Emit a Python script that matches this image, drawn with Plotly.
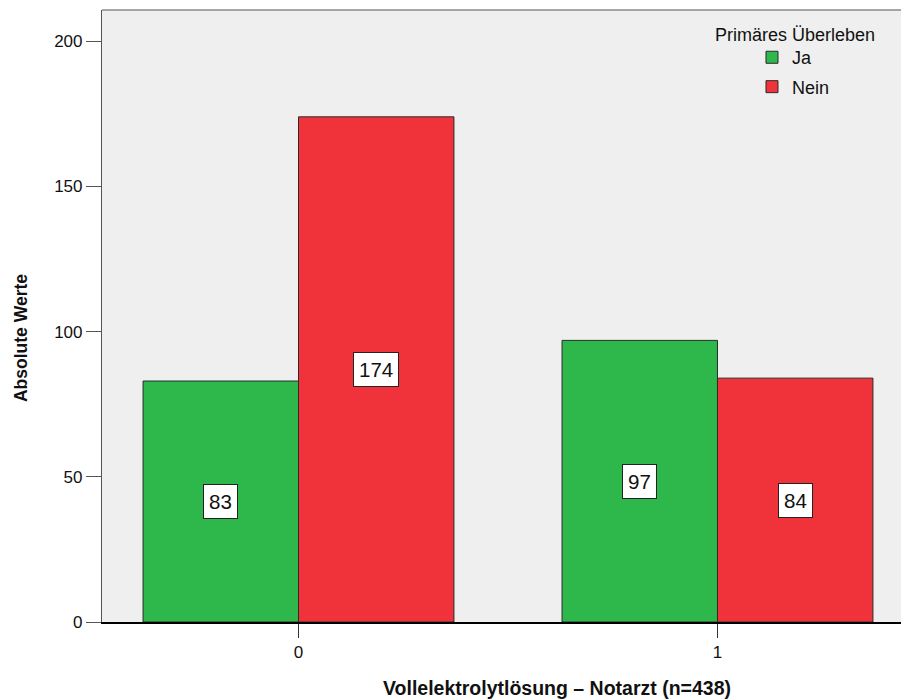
import plotly.graph_objects as go

categories = [0, 1]
ja_values = [83, 97]
nein_values = [174, 84]
series_names = ["Ja", "Nein"]
y_ticks = [0, 50, 100, 150, 200]
x_title = "Vollelektrolytlösung – Notarzt (n=438)"
y_title = "Absolute Werte"
legend_title = "Primäres Überleben"

GREEN = "#2EB84B"
RED = "#F0333B"
BW = 0.371
FONT = "Liberation Sans, Arial, sans-serif"

fig = go.Figure()
fig.add_trace(go.Bar(x=categories, y=ja_values, name=series_names[0], width=BW, offset=-BW,
                     marker=dict(color=GREEN, line=dict(color="#2a2a2a", width=1)),
                     legendgroup="a"))
fig.add_trace(go.Bar(x=categories, y=nein_values, name=series_names[1], width=BW, offset=0,
                     marker=dict(color=RED, line=dict(color="#2a2a2a", width=1)),
                     legendgroup="b"))

annotations = []
for c, v in zip(categories, ja_values):
    annotations.append(dict(x=c - BW / 2, y=v / 2, text=str(v), showarrow=False,
                            font=dict(size=20.5, color="#111", family=FONT),
                            bgcolor="white", bordercolor="#222", borderwidth=1, borderpad=5))
for c, v in zip(categories, nein_values):
    annotations.append(dict(x=c + BW / 2, y=v / 2, text=str(v), showarrow=False,
                            font=dict(size=20.5, color="#111", family=FONT),
                            bgcolor="white", bordercolor="#222", borderwidth=1, borderpad=5))
annotations.append(dict(xref="paper", yref="paper", x=0.5695, y=-0.1078, yanchor="middle",
                        text="<b>" + x_title + "</b>", showarrow=False,
                        font=dict(size=19.5, color="#111", family=FONT)))
annotations.append(dict(xref="paper", yref="paper", x=-0.1014, y=0.464, textangle=-90,
                        xanchor="center", yanchor="middle",
                        text="<b>" + y_title + "</b>", showarrow=False,
                        font=dict(size=17.5, color="#111", family=FONT)))
annotations.append(dict(xref="paper", yref="paper", x=0.8673, y=0.959, xanchor="center",
                        yanchor="middle", text=legend_title, showarrow=False,
                        font=dict(size=18, color="#111", family=FONT)))

fig.update_layout(
    width=901, height=699,
    margin=dict(l=102, r=0, t=10, b=77),
    paper_bgcolor="white", plot_bgcolor="#EFEFEF",
    barmode="overlay",
    font=dict(family=FONT, size=17, color="#111"),
    showlegend=True,
    legend=dict(x=0.8135, y=0.9525, xanchor="left", yanchor="top",
                bgcolor="rgba(0,0,0,0)", font=dict(size=18),
                tracegroupgap=3, itemwidth=30),
    annotations=annotations,
    shapes=[dict(type="line", xref="paper", yref="paper", x0=0, x1=1, y0=1, y1=1,
                 line=dict(color="#8a8a8a", width=1.5))],
    xaxis=dict(range=[-0.469, 1.438], tickvals=categories, ticktext=[str(c) for c in categories],
               showgrid=False, zeroline=False, showline=True, linecolor="#000", linewidth=1.5,
               ticks="outside", ticklen=14, tickcolor="#333", tickfont=dict(size=17)),
    yaxis=dict(range=[0, 210.8], tickvals=y_ticks, showgrid=False, zeroline=False,
               showline=True, linecolor="#555", linewidth=1.2,
               ticks="outside", ticklen=15, tickcolor="#555", tickfont=dict(size=17)),
)

fig.write_html("out.html", config={"displayModeBar": False},
               post_script="document.body.style.margin='0px';")
